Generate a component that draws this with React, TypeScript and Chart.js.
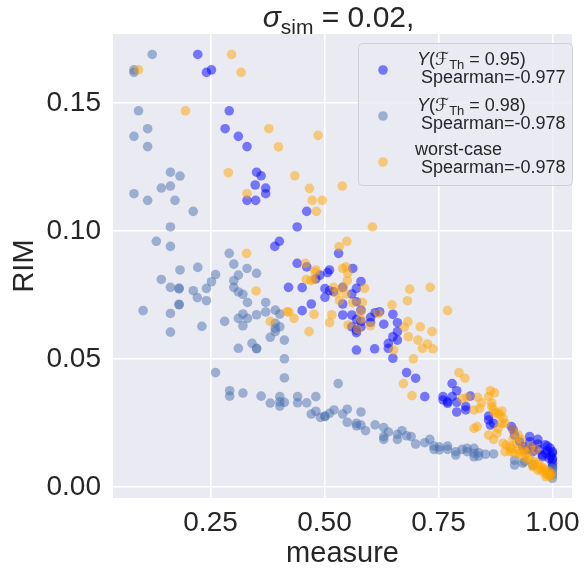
import React, { useEffect, useRef } from "react";
import { Chart, registerables } from "chart.js";

Chart.register(...registerables);

const FONT = "'Liberation Sans', Arial, 'DejaVu Sans', sans-serif";
const INK = "#262626";

const X_TICKS = [0.25, 0.5, 0.75, 1.0];
const Y_TICKS = [0.0, 0.05, 0.1, 0.15];
const X_MIN = 0.036;
const X_MAX = 1.043;
const Y_MIN = -0.0043;
const Y_MAX = 0.177;

const X_LABEL = "measure";
const Y_LABEL = "RIM";

const SERIES_NAMES = ["Y(F_Th = 0.95)", "Y(F_Th = 0.98)", "worst-case"];
const SPEARMAN = ["-0.977", "-0.978", "-0.978"];

// Y(F_Th = 0.95)
const BLUE_X = [
  0.222, 0.241, 0.252, 0.291, 0.282, 0.311, 0.33, 0.351, 0.348, 0.33, 0.349, 0.361, 0.371, 0.371, 0.461, 0.44,
  0.401, 0.391, 0.531, 0.44, 0.461, 0.511, 0.507, 0.562, 0.49, 0.421, 0.451, 0.481, 0.501, 0.511, 0.501, 0.52,
  0.54, 0.58, 0.57, 0.56, 0.54, 0.57, 0.451, 0.471, 0.54, 0.56, 0.58, 0.57, 0.58, 0.56, 0.57, 0.58, 0.57, 0.601,
  0.611, 0.621, 0.601, 0.63, 0.65, 0.66, 0.66, 0.65, 0.66, 0.64, 0.64, 0.65, 0.61, 0.57, 0.68, 0.7, 0.72, 0.78,
  0.79, 0.76, 0.76, 0.77, 0.77, 0.78, 0.79, 0.82, 0.79, 0.81, 0.81, 0.86, 0.86, 0.864, 0.914, 0.917, 0.95, 0.95,
  0.968, 0.968, 0.989, 0.989, 1.0, 1.0, 1.0, 0.935, 0.942, 0.957, 0.978, 0.928, 0.871, 0.91, 1.0, 1.0, 1.0,
  0.957, 0.971, 0.986, 0.978, 0.993, 0.995, 0.997, 0.984,
];
const BLUE_Y = [
  0.169, 0.162, 0.163, 0.147, 0.14, 0.137, 0.133, 0.123, 0.118, 0.112, 0.112, 0.1216, 0.1168, 0.1146, 0.1077,
  0.1016, 0.096, 0.094, 0.0913, 0.0874, 0.086, 0.0848, 0.0838, 0.0854, 0.0828, 0.078, 0.0779, 0.0813, 0.0775,
  0.0767, 0.0741, 0.0763, 0.078, 0.0803, 0.0776, 0.0754, 0.0715, 0.0724, 0.0689, 0.0715, 0.0672, 0.0672, 0.0691,
  0.0655, 0.0646, 0.0626, 0.0613, 0.0626, 0.0603, 0.0663, 0.0681, 0.0685, 0.0643, 0.0636, 0.0675, 0.0642, 0.0607,
  0.0587, 0.0574, 0.0561, 0.0542, 0.0503, 0.054, 0.0535, 0.0447, 0.0425, 0.0353, 0.0404, 0.0376, 0.0353, 0.034,
  0.0333, 0.0327, 0.0353, 0.0331, 0.0355, 0.0293, 0.0314, 0.0301, 0.0277, 0.0262, 0.0242, 0.0223, 0.0203, 0.0197,
  0.0177, 0.0186, 0.0168, 0.016, 0.0142, 0.0132, 0.0105, 0.0079, 0.0157, 0.0145, 0.0138, 0.0125, 0.0177, 0.0249,
  0.0236, 0.0138, 0.0112, 0.0093, 0.0157, 0.0145, 0.0132, 0.0118, 0.0112, 0.0152, 0.0122, 0.0165,
];

// Y(F_Th = 0.98)
const STEEL_X = [
  0.122, 0.082, 0.082, 0.092, 0.112, 0.082, 0.112, 0.162, 0.183, 0.162, 0.142, 0.082, 0.112, 0.172, 0.212, 0.162,
  0.131, 0.162, 0.291, 0.301, 0.33, 0.222, 0.183, 0.142, 0.162, 0.181, 0.181, 0.212, 0.221, 0.241, 0.252, 0.261,
  0.241, 0.181, 0.181, 0.102, 0.162, 0.162, 0.231, 0.281, 0.351, 0.311, 0.301, 0.301, 0.311, 0.321, 0.331, 0.371,
  0.321, 0.311, 0.331, 0.351, 0.371, 0.392, 0.402, 0.321, 0.392, 0.392, 0.392, 0.402, 0.381, 0.412, 0.311, 0.341,
  0.351, 0.351, 0.412, 0.261, 0.412, 0.292, 0.292, 0.321, 0.361, 0.381, 0.402, 0.402, 0.402, 0.412, 0.53, 0.441,
  0.481, 0.441, 0.461, 0.471, 0.481, 0.491, 0.501, 0.501, 0.511, 0.521, 0.54, 0.55, 0.55, 0.57, 0.57, 0.58, 0.58,
  0.59, 0.611, 0.63, 0.63, 0.63, 0.64, 0.66, 0.66, 0.67, 0.68, 0.69, 0.7, 0.72, 0.731, 0.74, 0.74, 0.752, 0.752,
  0.77, 0.77, 0.788, 0.788, 0.802, 0.813, 0.813, 0.828, 0.828, 0.828, 0.838, 0.838, 0.853, 0.871, 0.917, 0.917,
  0.935, 0.957, 1.0, 1.0, 1.0, 0.939, 1.0, 1.0,
];
const STEEL_Y = [
  0.169, 0.163, 0.162, 0.147, 0.14, 0.137, 0.133, 0.123, 0.1215, 0.1176, 0.1168, 0.1146, 0.112, 0.112, 0.1077,
  0.1016, 0.096, 0.094, 0.0913, 0.0871, 0.0854, 0.0858, 0.0848, 0.0811, 0.078, 0.0777, 0.0774, 0.0767, 0.074,
  0.0776, 0.0802, 0.083, 0.0728, 0.0714, 0.0712, 0.0689, 0.0678, 0.0605, 0.0628, 0.0647, 0.0835, 0.0828, 0.0806,
  0.078, 0.0762, 0.0753, 0.0721, 0.0721, 0.0676, 0.0659, 0.0659, 0.0673, 0.0684, 0.0691, 0.0676, 0.063, 0.064,
  0.062, 0.0607, 0.0626, 0.0585, 0.0574, 0.0542, 0.0561, 0.0542, 0.054, 0.0501, 0.0447, 0.0426, 0.0376, 0.0355,
  0.0367, 0.0355, 0.0328, 0.0353, 0.0333, 0.0316, 0.0331, 0.0404, 0.0353, 0.0353, 0.0329, 0.0329, 0.0285, 0.0296,
  0.0272, 0.0277, 0.0275, 0.0288, 0.0301, 0.0285, 0.0304, 0.0253, 0.0249, 0.0239, 0.0293, 0.0242, 0.022, 0.0243,
  0.0232, 0.0197, 0.0186, 0.0215, 0.0206, 0.0186, 0.022, 0.02, 0.0197, 0.0168, 0.0173, 0.0186, 0.016, 0.0147,
  0.0157, 0.0145, 0.016, 0.0147, 0.0138, 0.0125, 0.0147, 0.0151, 0.0138, 0.0151, 0.0132, 0.0118, 0.0134, 0.0121,
  0.0128, 0.0129, 0.0105, 0.0086, 0.0093, 0.0086, 0.0054, 0.0034, 0.0073, 0.0099, 0.0066, 0.0047,
];

// worst-case
const ORANGE_X = [
  0.296, 0.317, 0.092, 0.195, 0.289, 0.33, 0.329, 0.378, 0.486, 0.399, 0.435, 0.467, 0.473, 0.495, 0.482, 0.539,
  0.605, 0.549, 0.532, 0.458, 0.481, 0.54, 0.547, 0.35, 0.381, 0.418, 0.479, 0.46, 0.47, 0.476, 0.551, 0.55, 0.52,
  0.526, 0.533, 0.54, 0.547, 0.588, 0.583, 0.562, 0.58, 0.58, 0.573, 0.552, 0.601, 0.618, 0.516, 0.511, 0.477,
  0.422, 0.433, 0.466, 0.687, 0.732, 0.682, 0.648, 0.683, 0.675, 0.71, 0.736, 0.684, 0.705, 0.726, 0.715, 0.738,
  0.652, 0.695, 0.673, 0.692, 0.77, 0.795, 0.808, 0.802, 0.813, 0.864, 0.873, 0.836, 0.86, 0.845, 0.867, 0.84,
  0.867, 0.871, 0.828, 0.889, 0.881, 0.828, 0.835, 0.86, 0.871, 0.878, 0.881, 0.889, 0.892, 0.885, 0.874, 0.892,
  0.896, 0.907, 0.914, 0.921, 0.917, 0.928, 0.935, 0.943, 0.95, 0.961, 0.968, 0.975, 0.982, 0.989, 0.993, 0.957,
  0.968, 0.978, 0.986, 0.899, 0.91, 0.925, 0.935, 0.896, 0.914, 0.925, 0.932, 0.907, 0.939, 0.982, 0.989, 0.993,
  0.953, 0.964, 0.946, 0.958, 0.972, 0.996, 0.998,
];
const ORANGE_Y = [
  0.169, 0.162, 0.163, 0.147, 0.1228, 0.1146, 0.0913, 0.14, 0.1374, 0.1329, 0.1216, 0.1167, 0.112, 0.112, 0.1077,
  0.1176, 0.1016, 0.096, 0.0939, 0.0874, 0.0848, 0.0854, 0.086, 0.0766, 0.0647, 0.0685, 0.084, 0.0811, 0.0806,
  0.0811, 0.0835, 0.0806, 0.078, 0.0759, 0.0728, 0.078, 0.0754, 0.0776, 0.0721, 0.072, 0.0685, 0.0655, 0.0616,
  0.0633, 0.063, 0.0678, 0.0673, 0.0642, 0.0675, 0.0684, 0.0659, 0.0607, 0.0773, 0.078, 0.0728, 0.0712, 0.0646,
  0.0624, 0.0626, 0.0607, 0.0587, 0.0574, 0.0559, 0.0542, 0.054, 0.0535, 0.0501, 0.0404, 0.0357, 0.0689, 0.0447,
  0.0425, 0.0346, 0.035, 0.0376, 0.0368, 0.035, 0.0353, 0.0329, 0.0329, 0.0307, 0.0314, 0.0301, 0.0301, 0.0297,
  0.0288, 0.0229, 0.0236, 0.0203, 0.0186, 0.021, 0.0229, 0.0249, 0.0268, 0.0281, 0.0288, 0.0171, 0.0138, 0.0138,
  0.019, 0.0171, 0.0132, 0.0132, 0.0118, 0.0132, 0.0112, 0.0099, 0.0093, 0.0079, 0.0066, 0.0054, 0.0047, 0.0079,
  0.0066, 0.006, 0.004, 0.0164, 0.0151, 0.0145, 0.0151, 0.0249, 0.0223, 0.0203, 0.0184, 0.0157, 0.0138, 0.0073,
  0.0047, 0.006, 0.0157, 0.0145, 0.0105, 0.0088, 0.0072, 0.0042, 0.0052,
];

const COLORS = ["rgba(0,0,255,0.5)", "rgba(76,114,176,0.5)", "rgba(255,165,0,0.5)"];

type Part = { t: string; italic?: boolean; sub?: boolean };

function drawParts(ctx: CanvasRenderingContext2D, parts: Part[], x: number, y: number, size: number, align: "left" | "center") {
  const fontFor = (p: Part) => `${p.italic ? "italic " : ""}${p.sub ? Math.round(size * 0.7) : size}px ${FONT}`;
  let total = 0;
  for (const p of parts) {
    ctx.font = fontFor(p);
    total += ctx.measureText(p.t).width;
  }
  let cx = align === "center" ? x - total / 2 : x;
  ctx.textBaseline = "alphabetic";
  ctx.textAlign = "left";
  for (const p of parts) {
    ctx.font = fontFor(p);
    ctx.fillText(p.t, cx, p.sub ? y + size * 0.22 : y);
    cx += ctx.measureText(p.t).width;
  }
}

const titlePlugin = {
  id: "richTitle",
  afterDraw(chart: any) {
    const ctx = chart.ctx as CanvasRenderingContext2D;
    const area = chart.chartArea;
    ctx.save();
    ctx.fillStyle = INK;
    drawParts(
      ctx,
      [{ t: "σ", italic: true }, { t: "sim", sub: true }, { t: " = 0.02," }],
      (area.left + area.right) / 2 - 4,
      27,
      30,
      "center"
    );
    ctx.restore();
  },
};

const bgPlugin = {
  id: "bg",
  beforeDraw(chart: any) {
    const { ctx, chartArea } = chart;
    ctx.save();
    ctx.fillStyle = "#EAEAF2";
    ctx.fillRect(chartArea.left, chartArea.top, chartArea.right - chartArea.left, chartArea.bottom - chartArea.top);
    ctx.restore();
  },
};

function roundRect(ctx: CanvasRenderingContext2D, x: number, y: number, w: number, h: number, r: number) {
  ctx.beginPath();
  ctx.moveTo(x + r, y);
  ctx.lineTo(x + w - r, y);
  ctx.quadraticCurveTo(x + w, y, x + w, y + r);
  ctx.lineTo(x + w, y + h - r);
  ctx.quadraticCurveTo(x + w, y + h, x + w - r, y + h);
  ctx.lineTo(x + r, y + h);
  ctx.quadraticCurveTo(x, y + h, x, y + h - r);
  ctx.lineTo(x, y + r);
  ctx.quadraticCurveTo(x, y, x + r, y);
  ctx.closePath();
}

const legendPlugin = {
  id: "richLegend",
  afterDatasetsDraw(chart: any) {
    const ctx = chart.ctx as CanvasRenderingContext2D;
    ctx.save();
    roundRect(ctx, 358.5, 43.5, 214, 142, 4);
    ctx.fillStyle = "rgba(234,234,242,0.8)";
    ctx.fill();
    ctx.strokeStyle = "#d0d0d6";
    ctx.lineWidth = 1;
    ctx.stroke();

    const size = 18;
    const rows = [
      { my: 70, l1: 65, l2: 83 },
      { my: 116, l1: 111, l2: 129 },
      { my: 162, l1: 155, l2: 173 },
    ];
    rows.forEach((r, i) => {
      ctx.fillStyle = COLORS[i];
      ctx.beginPath();
      ctx.arc(383, r.my, 4.8, 0, Math.PI * 2);
      ctx.fill();
      ctx.fillStyle = INK;
      let line1: Part[];
      if (i < 2) {
        const th = SERIES_NAMES[i].match(/= ([0-9.]+)/)![1];
        line1 = [
          { t: "Y", italic: true },
          { t: "(" },
          { t: "ℱ", italic: true },
          { t: "Th", sub: true },
          { t: ` = ${th})` },
        ];
      } else {
        line1 = [{ t: SERIES_NAMES[i] }];
      }
      drawParts(ctx, line1, i < 2 ? 417 : 415, r.l1, size, "left");
      drawParts(ctx, [{ t: `Spearman=${SPEARMAN[i]}` }], 421, r.l2, size, "left");
    });
    ctx.restore();
  },
};

function pts(xs: number[], ys: number[]) {
  return xs.map((x, i) => ({ x, y: ys[i] }));
}

export default function App() {
  const ref = useRef<HTMLCanvasElement | null>(null);
  useEffect(() => {
    if (!ref.current) return;
    const ds = (i: number, xs: number[], ys: number[], order: number) => ({
      label: SERIES_NAMES[i],
      data: pts(xs, ys),
      backgroundColor: COLORS[i],
      borderWidth: 0,
      pointRadius: 4.8,
      pointHoverRadius: 4.8,
      order,
    });
    const chart = new Chart(ref.current, {
      type: "scatter",
      data: {
        datasets: [ds(0, BLUE_X, BLUE_Y, 3), ds(1, STEEL_X, STEEL_Y, 2), ds(2, ORANGE_X, ORANGE_Y, 1)],
      },
      options: {
        animation: false,
        responsive: false,
        devicePixelRatio: 1,
        layout: { padding: { top: 34, right: 8, left: 0, bottom: 0 } },
        plugins: { legend: { display: false }, tooltip: { enabled: false }, title: { display: false } },
        scales: {
          x: {
            type: "linear",
            min: X_MIN,
            max: X_MAX,
            afterBuildTicks: (s: any) => {
              s.ticks = X_TICKS.map((v) => ({ value: v }));
            },
            afterFit: (s: any) => {
              s.height = 73;
            },
            grid: { color: "#ffffff", lineWidth: 1.6, drawTicks: false },
            border: { display: false },
            ticks: {
              font: { size: 28, family: FONT },
              color: INK,
              padding: 8,
              maxRotation: 0,
              callback: (v: any) => Number(v).toFixed(2),
            },
            title: {
              display: true,
              text: X_LABEL,
              color: INK,
              font: { size: 29, family: FONT },
              padding: { top: 4, bottom: 0 },
            },
          },
          y: {
            type: "linear",
            min: Y_MIN,
            max: Y_MAX,
            afterBuildTicks: (s: any) => {
              s.ticks = Y_TICKS.map((v) => ({ value: v }));
            },
            afterFit: (s: any) => {
              s.width = 113;
            },
            grid: { color: "#ffffff", lineWidth: 1.6, drawTicks: false },
            border: { display: false },
            ticks: {
              font: { size: 28, family: FONT },
              color: INK,
              padding: 12,
              callback: (v: any) => Number(v).toFixed(2),
            },
            title: {
              display: true,
              text: Y_LABEL,
              color: INK,
              font: { size: 29, family: FONT },
              padding: { top: 8, bottom: 0 },
            },
          },
        },
      },
      plugins: [bgPlugin, legendPlugin, titlePlugin],
    } as any);
    return () => chart.destroy();
  }, []);
  return (
    <div style={{ position: "absolute", left: 0, top: 0, width: 588, height: 571 }}>
      <canvas ref={ref} width={588} height={571} style={{ width: 588, height: 571 }} />
    </div>
  );
}
